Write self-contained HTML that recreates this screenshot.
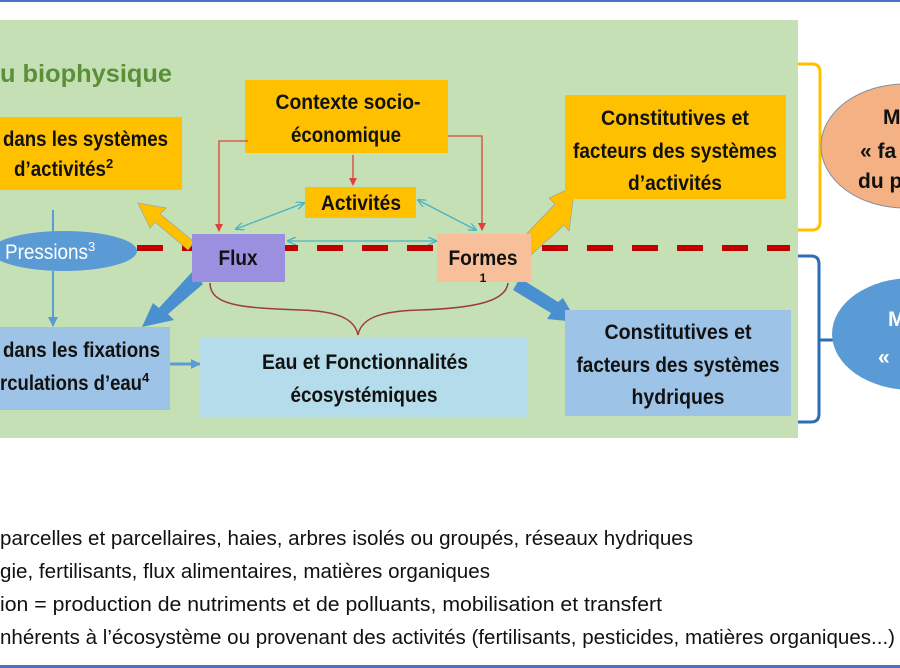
<!DOCTYPE html>
<html><head><meta charset="utf-8"><style>
html,body{margin:0;padding:0;background:#fff;width:900px;height:668px;overflow:hidden}
text{font-family:"Liberation Sans Narrow","Liberation Sans",sans-serif;font-weight:bold;fill:#111}
.n{font-weight:normal}
</style></head><body>
<svg width="900" height="668" viewBox="0 0 900 668" xmlns="http://www.w3.org/2000/svg">
<defs>
<marker id="ar" markerWidth="8" markerHeight="8" refX="7" refY="4" orient="auto" markerUnits="userSpaceOnUse"><path d="M0,0 L8,4 L0,8 z" fill="#e0403a"/></marker>
<marker id="at" markerWidth="9" markerHeight="8" refX="8" refY="4" orient="auto-start-reverse" markerUnits="userSpaceOnUse"><path d="M0,0 L9,4 L0,8" fill="none" stroke="#4bb3c4" stroke-width="1.3"/></marker>
<marker id="ab" markerWidth="10" markerHeight="10" refX="9" refY="5" orient="auto" markerUnits="userSpaceOnUse"><path d="M0,0 L10,5 L0,10 z" fill="#5b9bd5"/></marker>
</defs>
<rect x="0" y="0" width="900" height="2" fill="#4a72c4"/>
<rect x="0" y="665" width="900" height="3" fill="#4a72c4"/>
<rect x="0" y="20" width="798" height="418" fill="#c5e0b4"/>
<text x="0" y="82" font-size="25" style="fill:#5b8f3a" textLength="172" lengthAdjust="spacingAndGlyphs">u biophysique</text>

<line x1="137" y1="248" x2="790" y2="248" stroke="#c00000" stroke-width="6" stroke-dasharray="26,19"/>

<rect x="0" y="117" width="182" height="73" fill="#ffc000"/>
<text x="3" y="146" font-size="21" textLength="165" lengthAdjust="spacingAndGlyphs">dans les systèmes</text>
<text x="14" y="176" font-size="21"><tspan textLength="92" lengthAdjust="spacingAndGlyphs">d’activités</tspan><tspan font-size="13" dy="-8">2</tspan></text>

<rect x="245" y="80" width="203" height="73" fill="#ffc000"/>
<text x="348" y="109" font-size="21" text-anchor="middle" textLength="145" lengthAdjust="spacingAndGlyphs">Contexte socio-</text>
<text x="346" y="142" font-size="21" text-anchor="middle" textLength="110" lengthAdjust="spacingAndGlyphs">économique</text>
<rect x="305" y="187" width="111" height="31" fill="#ffc000"/>
<text x="361" y="210" font-size="21" text-anchor="middle" textLength="80" lengthAdjust="spacingAndGlyphs">Activités</text>

<polyline points="248,141 219,141 219,231" fill="none" stroke="#e0403a" stroke-width="1.3" marker-end="url(#ar)"/>
<line x1="353" y1="155" x2="353" y2="185" stroke="#e0403a" stroke-width="1.3" marker-end="url(#ar)"/>
<polyline points="448,136 482,136 482,230" fill="none" stroke="#e0403a" stroke-width="1.3" marker-end="url(#ar)"/>
<line x1="236" y1="229" x2="304" y2="203" stroke="#4bb3c4" stroke-width="1.3" marker-start="url(#at)" marker-end="url(#at)"/>
<line x1="418" y1="200" x2="476" y2="230" stroke="#4bb3c4" stroke-width="1.3" marker-start="url(#at)" marker-end="url(#at)"/>
<line x1="288" y1="241" x2="436" y2="241" stroke="#4bb3c4" stroke-width="1.3" marker-start="url(#at)" marker-end="url(#at)"/>

<ellipse cx="64" cy="251" rx="73" ry="20" fill="#5b9bd5"/>
<text x="5" y="259" font-size="21" class="n" style="fill:#fff"><tspan textLength="83" lengthAdjust="spacingAndGlyphs">Pressions</tspan><tspan font-size="13" dy="-8">3</tspan></text>
<line x1="53" y1="210" x2="53" y2="232" stroke="#5b9bd5" stroke-width="2"/>
<line x1="53" y1="271" x2="53" y2="326" stroke="#5b9bd5" stroke-width="2" marker-end="url(#ab)"/>

<polygon points="200,235 188,250 155,222 150,228 138,203 166,208 160,214 193,241" fill="#ffc000" stroke="#8aa0b0" stroke-width="0.6"/>
<polygon points="192,272 203,284 168,314 174,320 142,327 153,303 159,308" fill="#4a8fd0"/>
<polygon points="518,243 531,255 564,225 569,231 575,186 549,198 555,204" fill="#ffc000" stroke="#8aa0b0" stroke-width="0.6"/>
<polygon points="520,278 513,290 551,313 547,319 577,322 563,298 558,302" fill="#4a8fd0"/>

<rect x="192" y="234" width="93" height="48" fill="#9b8fe0"/>
<text x="238" y="265" font-size="21" text-anchor="middle" textLength="39" lengthAdjust="spacingAndGlyphs">Flux</text>
<rect x="437" y="234" width="94" height="48" fill="#f8c09a"/>
<text x="483" y="265" font-size="21" text-anchor="middle" textLength="69" lengthAdjust="spacingAndGlyphs">Formes</text>
<text x="483" y="282" font-size="12" text-anchor="middle">1</text>

<path d="M210,283 C210,305 240,308 300,310 C340,311 355,320 358,335 C361,320 376,311 420,310 C480,308 506,300 508,283" fill="none" stroke="#9b3d3d" stroke-width="1.5"/>

<rect x="0" y="327" width="170" height="83" fill="#9dc3e6"/>
<text x="3" y="357" font-size="21" textLength="157" lengthAdjust="spacingAndGlyphs">dans les fixations</text>
<text x="0" y="390" font-size="21"><tspan textLength="142" lengthAdjust="spacingAndGlyphs">rculations d’eau</tspan><tspan font-size="13" dy="-8">4</tspan></text>
<line x1="170" y1="364" x2="200" y2="364" stroke="#5b9bd5" stroke-width="3" marker-end="url(#ab)"/>
<rect x="200" y="337" width="328" height="81" fill="#b4dcea"/>
<text x="365" y="369" font-size="21" text-anchor="middle" textLength="206" lengthAdjust="spacingAndGlyphs">Eau et Fonctionnalités</text>
<text x="364" y="402" font-size="21" text-anchor="middle" textLength="147" lengthAdjust="spacingAndGlyphs">écosystémiques</text>

<rect x="565" y="95" width="221" height="104" fill="#ffc000"/>
<text x="675" y="125" font-size="21" text-anchor="middle" textLength="148" lengthAdjust="spacingAndGlyphs">Constitutives et</text>
<text x="675" y="158" font-size="21" text-anchor="middle" textLength="204" lengthAdjust="spacingAndGlyphs">facteurs des systèmes</text>
<text x="675" y="190" font-size="21" text-anchor="middle" textLength="94" lengthAdjust="spacingAndGlyphs">d’activités</text>
<rect x="565" y="310" width="226" height="106" fill="#9dc3e6"/>
<text x="678" y="339" font-size="21" text-anchor="middle" textLength="147" lengthAdjust="spacingAndGlyphs">Constitutives et</text>
<text x="678" y="372" font-size="21" text-anchor="middle" textLength="203" lengthAdjust="spacingAndGlyphs">facteurs des systèmes</text>
<text x="678" y="404" font-size="21" text-anchor="middle" textLength="93" lengthAdjust="spacingAndGlyphs">hydriques</text>

<path d="M798,64 H812 Q820,64 820,72 V222 Q820,230 812,230 H798" fill="none" stroke="#ffc000" stroke-width="3"/>
<line x1="820" y1="146" x2="856" y2="146" stroke="#ffc000" stroke-width="3"/>
<path d="M798,256 H811 Q819,256 819,264 V414 Q819,422 811,422 H798" fill="none" stroke="#2e6db4" stroke-width="3"/>
<line x1="819" y1="340" x2="860" y2="340" stroke="#2e6db4" stroke-width="3"/>

<ellipse cx="905" cy="146" rx="84" ry="62" fill="#f4b183" stroke="#7f8fa0" stroke-width="1"/>
<text x="883" y="124" font-size="21">M</text>
<text x="860" y="158" font-size="21">« fa</text>
<text x="858" y="188" font-size="21">du p</text>
<ellipse cx="912" cy="334" rx="80" ry="56" fill="#5b9bd5"/>
<text x="888" y="326" font-size="21" style="fill:#fff">M</text>
<text x="878" y="364" font-size="21" style="fill:#fff">«</text>

<text class="n" x="0" y="545" font-size="20" textLength="693" lengthAdjust="spacingAndGlyphs">parcelles et parcellaires, haies, arbres isolés ou groupés, réseaux hydriques</text>
<text class="n" x="0" y="578" font-size="20" textLength="490" lengthAdjust="spacingAndGlyphs">gie, fertilisants, flux alimentaires, matières organiques</text>
<text class="n" x="0" y="611" font-size="20" textLength="662" lengthAdjust="spacingAndGlyphs">ion = production de nutriments et de polluants, mobilisation et transfert</text>
<text class="n" x="0" y="644" font-size="20" textLength="895" lengthAdjust="spacingAndGlyphs">nhérents à l’écosystème ou provenant des activités (fertilisants, pesticides, matières organiques...)</text>
</svg>
</body></html>
